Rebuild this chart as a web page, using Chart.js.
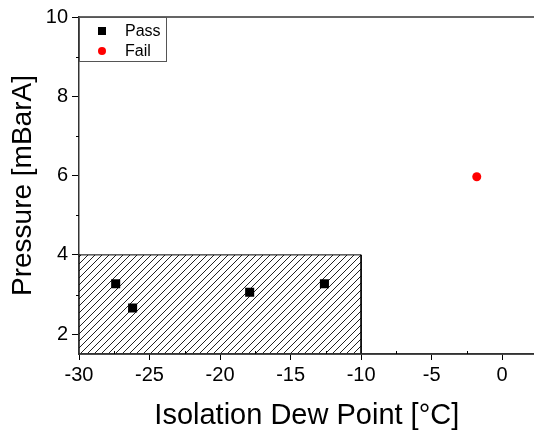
<!DOCTYPE html>
<html>
<head>
<meta charset="utf-8">
<script src="https://cdn.jsdelivr.net/npm/chart.js@4"></script>
<style>
  html, body { margin: 0; padding: 0; background: #fff; overflow: hidden; }
  #wrap { width: 534px; height: 437px; overflow: hidden; }
</style>
</head>
<body>
<div id="wrap"><canvas id="chart" width="541" height="437"></canvas></div>
<script>
// values
const passX = [-27.4, -26.2, -17.9, -12.6];
const passY = [3.27, 2.66, 3.06, 3.27];
const failX = [-1.8];
const failY = [5.97];
const zoneX = [-30, -30, -10, -10];
const zoneY = [1.5, 4, 4, 1.5];
const xTicks = [-30, -25, -20, -15, -10, -5, 0];
const yTicks = [2, 4, 6, 8, 10];
const xMinor = [-27.5, -22.5, -17.5, -12.5, -7.5, -2.5];
const yMinor = [3, 5, 7, 9];

const FONT = "Arial, 'Liberation Sans', sans-serif";

function hatch() {
  const c = document.createElement("canvas");
  c.width = 7; c.height = 7;
  const g = c.getContext("2d");
  g.strokeStyle = "#222";
  g.lineWidth = 1;
  g.beginPath();
  g.moveTo(-1, 8); g.lineTo(8, -1);
  g.moveTo(-1, 1); g.lineTo(1, -1);
  g.moveTo(6, 8); g.lineTo(8, 6);
  g.stroke();
  return g.createPattern(c, "repeat");
}

const pts = (xs, ys) => xs.map((x, i) => ({ x, y: ys[i] }));

const frame = {
  id: "frame",
  afterDraw(chart) {
    const { ctx, chartArea: a, scales } = chart;
    ctx.save();
    ctx.strokeStyle = "#333";
    ctx.lineWidth = 1.5;
    ctx.beginPath();
    ctx.moveTo(a.left, a.top); ctx.lineTo(chart.width, a.top);
    ctx.moveTo(a.left, a.bottom); ctx.lineTo(chart.width, a.bottom);
    ctx.stroke();
    ctx.lineWidth = 1;
    ctx.strokeStyle = "#000";
    ctx.beginPath();
    xMinor.forEach((v) => {
      const px = Math.round(scales.x.getPixelForValue(v)) + 0.5;
      ctx.moveTo(px, a.bottom); ctx.lineTo(px, a.bottom - 3);
    });
    yMinor.forEach((v) => {
      const py = Math.round(scales.y.getPixelForValue(v)) + 0.5;
      ctx.moveTo(a.left, py); ctx.lineTo(a.left - 3, py);
    });
    ctx.stroke();

    // legend box
    const lx = a.left, ly = a.top, lw = 87, lh = 44;
    ctx.fillStyle = "#fff";
    ctx.fillRect(lx, ly, lw, lh);
    ctx.strokeStyle = "#555";
    ctx.strokeRect(lx + 0.5, ly + 0.5, lw, lh);
    const items = chart.data.datasets.filter((d) => d.label);
    items.forEach((d, i) => {
      const cy = ly + 14 + i * 20;
      ctx.fillStyle = d.backgroundColor;
      if (d.pointStyle === "rect") ctx.fillRect(lx + 19, cy - 4, 8, 8);
      else { ctx.beginPath(); ctx.arc(lx + 23, cy, 4, 0, Math.PI * 2); ctx.fill(); }
      ctx.fillStyle = "#000";
      ctx.font = "16px " + FONT;
      ctx.textBaseline = "middle";
      ctx.fillText(d.label, lx + 46, cy + 1);
    });
    ctx.restore();
  },
};

new Chart(document.getElementById("chart"), {
  type: "scatter",
  data: {
    datasets: [
      {
        data: pts(zoneX, zoneY),
        showLine: true,
        fill: "start",
        backgroundColor: hatch(),
        borderColor: "#000",
        borderWidth: 1,
        pointRadius: 0,
        order: 3,
      },
      {
        label: "Pass",
        data: pts(passX, passY),
        pointStyle: "rect",
        pointRadius: 6.4,
        backgroundColor: "#000",
        borderWidth: 0,
        order: 1,
      },
      {
        label: "Fail",
        data: pts(failX, failY),
        pointStyle: "circle",
        pointRadius: 4.5,
        backgroundColor: "#ff0000",
        borderWidth: 0,
        order: 1,
      },
    ],
  },
  options: {
    responsive: false,
    animation: false,
    layout: { padding: { top: 17, right: 0, left: 0, bottom: 0 } },
    plugins: { legend: { display: false }, tooltip: { enabled: false } },
    scales: {
      x: {
        type: "linear",
        min: -30,
        max: 2.3,
        afterBuildTicks: (s) => { s.ticks = xTicks.map((v) => ({ value: v })); },
        afterFit: (s) => { s.height = 83; },
        border: { color: "#333", width: 1.5 },
        grid: { drawOnChartArea: false, drawTicks: true, tickLength: 6, color: "#000" },
        ticks: { color: "#000", font: { family: FONT, size: 20 }, padding: 3, maxRotation: 0 },
        title: {
          display: true,
          text: "Isolation Dew Point [°C]",
          color: "#000",
          font: { family: FONT, size: 29 },
          padding: { top: 10 },
        },
      },
      y: {
        type: "linear",
        min: 1.5,
        max: 10,
        afterBuildTicks: (s) => { s.ticks = yTicks.map((v) => ({ value: v })); },
        afterFit: (s) => { s.width = 79; },
        border: { color: "#333", width: 1.5 },
        grid: { drawOnChartArea: false, drawTicks: true, tickLength: 7, color: "#000" },
        ticks: { color: "#000", font: { family: FONT, size: 20 }, padding: 4 },
        title: {
          display: true,
          text: "Pressure [mBarA]",
          color: "#000",
          font: { family: FONT, size: 28 },
          padding: { top: 6, bottom: 0 },
        },
      },
    },
  },
  plugins: [frame],
});
</script>
</body>
</html>
